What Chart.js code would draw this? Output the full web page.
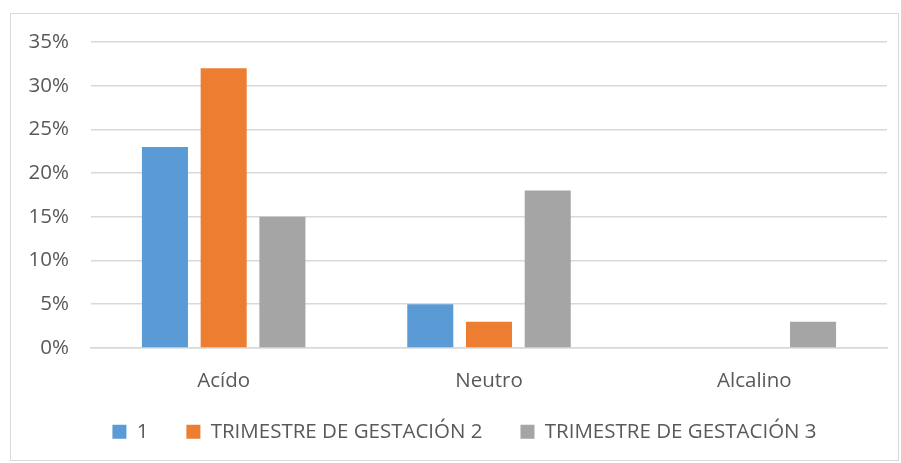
<!DOCTYPE html>
<html lang="es">
<head>
<meta charset="UTF-8">
<title>pH por trimestre</title>
<script src="https://cdn.jsdelivr.net/npm/chart.js"></script>
<style>
    body { margin: 0; background: #fff; }
    .frame {
        position: absolute;
        left: 10px; top: 13px;
        width: 889px; height: 448px;
        border: 1.5px solid #d9d9d9;
        box-sizing: border-box;
    }
    .wrap { position: absolute; left: 0; top: 0; width: 901px; height: 463px; }
</style>
</head>
<body>
<div class="frame"></div>
<div class="wrap"><canvas id="c" width="901" height="463"></canvas></div>
<script>
    const categorias = ['Acído', 'Neutro', 'Alcalino'];
    const serie1 = [23, 5, 0];
    const serie2 = [32, 3, 0];
    const serie3 = [15, 18, 3];
    const nombres = ['1', 'TRIMESTRE DE GESTACIÓN 2', 'TRIMESTRE DE GESTACIÓN 3'];

    const fuente = { family: '"Open Sans", sans-serif', size: 20.5 };
    const gris = '#595959';

    // mueve la leyenda un poco (en Excel no queda centrada en el lienzo)
    const moverLeyenda = {
        id: 'moverLeyenda',
        afterLayout(chart) {
            const l = chart.legend;
            l.left += 21; l.right += 21;
            l.top -= 31; l.bottom -= 31;
        }
    };

    new Chart(document.getElementById('c'), {
        type: 'bar',
        data: {
            labels: categorias,
            datasets: [
                { label: nombres[0], data: serie1, backgroundColor: '#5b9bd5' },
                { label: nombres[1], data: serie2, backgroundColor: '#ed7d31' },
                { label: nombres[2], data: serie3, backgroundColor: '#a5a5a5' }
            ]
        },
        plugins: [moverLeyenda],
        options: {
            responsive: false,
            animation: false,
            categoryPercentage: 0.664,
            barPercentage: 0.784,
            layout: { padding: { top: 42, right: 14, left: 0, bottom: -20 } },
            plugins: {
                tooltip: { enabled: false },
                legend: {
                    position: 'bottom',
                    labels: {
                        color: gris,
                        font: fuente,
                        boxWidth: 14,
                        boxHeight: 14,
                        padding: 38
                    }
                }
            },
            scales: {
                x: {
                    grid: { display: false, drawTicks: false },
                    border: { color: '#d9d9d9', width: 1.5 },
                    ticks: { color: gris, font: fuente, padding: 21 }
                },
                y: {
                    min: 0, max: 35,
                    afterFit: s => { s.width = 91; },
                    grid: { color: '#d9d9d9', lineWidth: 1.5, drawTicks: false },
                    border: { display: false },
                    ticks: {
                        stepSize: 5,
                        color: gris,
                        font: fuente,
                        padding: 22,
                        callback: v => v + '%'
                    }
                }
            }
        }
    });
</script>
</body>
</html>
